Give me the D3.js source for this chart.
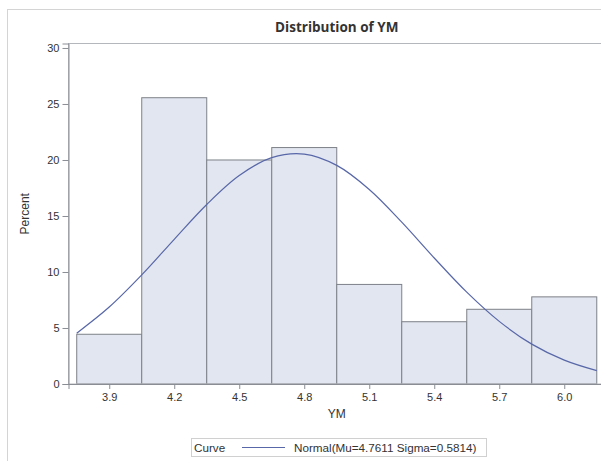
<!DOCTYPE html>
<html>
<head>
<meta charset="utf-8">
<script src="https://cdn.jsdelivr.net/npm/d3@7"></script>
<style>
  body { margin: 0; background: #fff; overflow: hidden; }
  text { font-family: "Liberation Sans", Arial, sans-serif; fill: #333; }
</style>
</head>
<body>
<svg id="chart" width="601" height="461"></svg>
<script>
// bin midpoints and percent per bin
var binMids = [3.9, 4.2, 4.5, 4.8, 5.1, 5.4, 5.7, 6.0];
var binPercent = [4.44, 25.56, 20.0, 21.11, 8.89, 5.56, 6.67, 7.78];
var binWidth = 0.3;

// fitted normal curve, every 0.15
var curveX = [3.75, 3.9, 4.05, 4.2, 4.35, 4.5, 4.65, 4.8, 4.95, 5.1, 5.25, 5.4, 5.55, 5.7, 5.85, 6.0, 6.15];
var curveY = [4.54, 6.87, 9.74, 12.92, 16.03, 18.61, 20.21, 20.53, 19.52, 17.37, 14.45, 11.25, 8.2, 5.59, 3.56, 2.13, 1.19];

var xTicks = [3.9, 4.2, 4.5, 4.8, 5.1, 5.4, 5.7, 6.0];
var yTicks = [0, 5, 10, 15, 20, 25, 30];

// plot box (named so nothing clashes with window.top)
var pLeft = 68.5, pRight = 605, pTop = 43.5, pBottom = 384;

var svg = d3.select("#chart");

// outer border
svg.append("rect")
    .attr("x", 7.5).attr("y", 9.5)
    .attr("width", 620).attr("height", 470)
    .attr("fill", "none").attr("stroke", "#d4d4d4");

var x = d3.scaleLinear().domain([3.712, 6.188]).range([pLeft, pRight]);
var y = d3.scaleLinear().domain([0, 30.4]).range([pBottom, pTop]);

// bars
svg.append("g").selectAll("rect")
    .data(binMids)
    .enter().append("rect")
    .attr("x", function (d) { return x(d - binWidth / 2); })
    .attr("width", function (d) { return x(d + binWidth / 2) - x(d - binWidth / 2); })
    .attr("y", function (d, i) { return y(binPercent[i]); })
    .attr("height", function (d, i) { return y(0) - y(binPercent[i]); })
    .attr("fill", "#e2e6f0")
    .attr("stroke", "#7d8188")
    .attr("stroke-width", 1);

// normal curve
var line = d3.line()
    .x(function (d, i) { return x(curveX[i]); })
    .y(function (d) { return y(d); })
    .curve(d3.curveCatmullRom);

svg.append("path")
    .datum(curveY)
    .attr("d", line)
    .attr("fill", "none")
    .attr("stroke", "#5867a8")
    .attr("stroke-width", 1.2);

// frame
svg.append("rect")
    .attr("x", pLeft).attr("y", pTop)
    .attr("width", pRight - pLeft).attr("height", pBottom - pTop)
    .attr("fill", "none").attr("stroke", "#b4b8bd");

// axes
var yAxis = svg.append("g")
    .attr("transform", "translate(" + pLeft + ",0)")
    .call(d3.axisLeft(y).tickValues(yTicks).tickSize(6).tickPadding(3).tickFormat(d3.format("d")));
var xAxis = svg.append("g")
    .attr("transform", "translate(0," + pBottom + ")")
    .call(d3.axisBottom(x).tickValues(xTicks).tickSize(5).tickPadding(4).tickFormat(d3.format(".1f")));

[xAxis, yAxis].forEach(function (a) {
    a.select(".domain").attr("stroke", "#8a8e94");
    a.selectAll(".tick line").attr("stroke", "#8a8e94");
    a.selectAll(".tick text")
        .style("font-family", "Liberation Sans, Arial, sans-serif")
        .style("font-size", "11px")
        .attr("fill", "#333");
});

// title
svg.append("text")
    .attr("x", (pLeft + pRight) / 2).attr("y", 32)
    .attr("text-anchor", "middle")
    .style("font-family", "'Open Sans', 'Noto Sans', sans-serif")
    .style("font-weight", "bold")
    .style("font-size", "13.5px")
    .attr("fill", "#000")
    .text("Distribution of YM");

// axis labels
svg.append("text")
    .attr("x", (pLeft + pRight) / 2).attr("y", 418)
    .attr("text-anchor", "middle")
    .style("font-size", "12px")
    .text("YM");

svg.append("text")
    .attr("transform", "translate(29," + (pTop + pBottom) / 2 + ")rotate(-90)")
    .attr("text-anchor", "middle")
    .style("font-size", "12px")
    .text("Percent");

// legend
var lg = svg.append("g");
lg.append("rect")
    .attr("x", 191.5).attr("y", 438.5)
    .attr("width", 295).attr("height", 18)
    .attr("fill", "#fff").attr("stroke", "#d0d0d0");
lg.append("text")
    .attr("x", 194).attr("y", 452)
    .style("font-size", "11.7px")
    .text("Curve");
lg.append("line")
    .attr("x1", 242).attr("x2", 285)
    .attr("y1", 447.5).attr("y2", 447.5)
    .attr("stroke", "#5867a8").attr("stroke-width", 1.2);
lg.append("text")
    .attr("x", 294).attr("y", 452)
    .style("font-size", "11.7px")
    .text("Normal(Mu=4.7611 Sigma=0.5814)");
</script>
</body>
</html>
